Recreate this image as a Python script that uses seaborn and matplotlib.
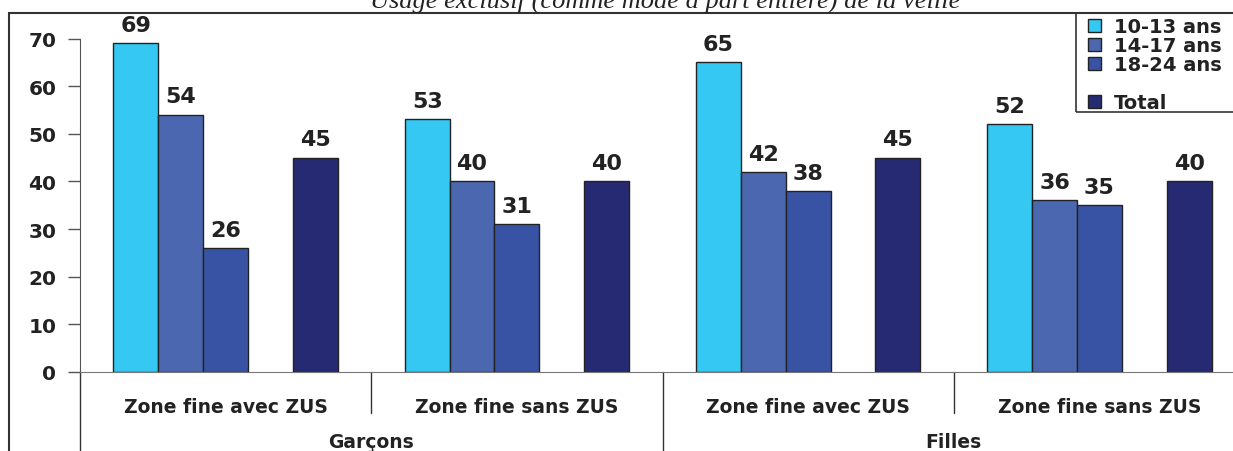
import pandas as pd
import matplotlib.pyplot as plt
import seaborn as sns
from matplotlib.patches import Patch, Rectangle

# Data
sexes = ['Garçons', 'Garçons', 'Filles', 'Filles']
zones = ['Zone fine avec ZUS', 'Zone fine sans ZUS', 'Zone fine avec ZUS', 'Zone fine sans ZUS']
ages = ['10-13 ans', '14-17 ans', '18-24 ans', 'Total']
v_10_13 = [69, 53, 65, 52]
v_14_17 = [54, 40, 42, 36]
v_18_24 = [26, 31, 38, 35]
v_total = [45, 40, 45, 40]
colors = ['#35C8F2', '#4A67B0', '#3853A4', '#262A73']
title = 'Usage exclusif (comme mode à part entière) de la veille'

# Long format
keys = [f'{s}|{z}' for s, z in zip(sexes, zones)]
rows = []
for age, vals in zip(ages, [v_10_13, v_14_17, v_18_24, v_total]):
    for k, v in zip(keys, vals):
        rows.append({'cat': k, 'age': age, 'val': v})
df = pd.DataFrame(rows)

# blank hue level makes the gap between 18-24 and Total
hue_order = ages[:3] + [' '] + ages[3:]
palette = dict(zip(ages, colors))
palette[' '] = 'white'

sns.set_style('white')
plt.rcParams['font.family'] = ['DejaVu Sans']

W, H = 1233, 452
fig = plt.figure(figsize=(W / 100, H / 100), dpi=100)
x0, x1, ytop, ybot = 80, 1245, 39.5, 373
ax = fig.add_axes([x0 / W, (H - ybot) / H, (x1 - x0) / W, (ybot - ytop) / H])

sns.barplot(data=df, x='cat', y='val', hue='age', order=keys, hue_order=hue_order,
            palette=palette, saturation=1, width=0.77, edgecolor='#222222', linewidth=1,
            errorbar=None, legend=False, ax=ax)

ax.set_ylim(0, 70)
ax.set_xlim(-0.5, 3.5)
ax.set_yticks(range(0, 71, 10))
ax.set_xlabel('')
ax.set_ylabel('')
for sp in ['top', 'right']:
    ax.spines[sp].set_visible(False)
ax.spines['left'].set_color('#555555')
ax.spines['bottom'].set_color('#777777')
ax.tick_params(axis='y', direction='out', length=9, width=1, color='#555555',
               labelsize=14.5, pad=8, left=True)
ax.tick_params(axis='x', length=0, pad=18, labelsize=13.5)
ax.set_xticks(range(len(zones)))
ax.set_xticklabels(zones, fontweight='bold', color='#222222')
for t in ax.get_yticklabels():
    t.set_fontweight('bold')
    t.set_color('#222222')

# value labels
for c in ax.containers:
    labs = [f'{v:.0f}' if v > 0 else '' for v in c.datavalues]
    ax.bar_label(c, labels=labs, padding=6, fontsize=16, fontweight='bold',
                 color='#222222', clip_on=False)

# category separators and group labels
tr = ax.get_xaxis_transform()
axh = ybot - ytop
for i in range(len(keys) + 1):
    xs = i - 0.5
    long_line = (i % 2 == 0)
    ye = -(H - ybot) / axh - 0.01 if long_line else -(414 - ybot) / axh
    ax.plot([xs, xs], [0, ye], transform=tr, color='#333333', lw=1, clip_on=False)
for g in ['Garçons', 'Filles']:
    idx = [i for i, s in enumerate(sexes) if s == g]
    xm = (idx[0] + idx[-1]) / 2
    ax.text(xm, -(443 - ybot) / axh, g, transform=tr, ha='center', va='center',
            fontsize=13.5, fontweight='bold', color='#222222')

# outer frame
fig.add_artist(Rectangle((9 / W, -0.1), 1.2, 1.1 - 14 / H, transform=fig.transFigure,
                         fill=False, edgecolor='#333333', lw=1.5))

# title (partly cut off at the top, as in the source)
fig.text(665 / W, 1 - 8 / H, title, ha='center', va='baseline', fontsize=19,
         style='italic', family=['Liberation Serif', 'DejaVu Serif'], color='#222222')

# legend with an empty row, box drawn separately
fig.add_artist(Rectangle((1076 / W, 1 - 113 / H), 0.2, (113 - 14) / H,
                         transform=fig.transFigure, fill=False, edgecolor='#333333', lw=1.2))
handles = [Patch(facecolor=colors[0], edgecolor='#222222', label=ages[0]),
           Patch(facecolor=colors[1], edgecolor='#222222', label=ages[1]),
           Patch(facecolor=colors[2], edgecolor='#222222', label=ages[2]),
           Patch(facecolor='none', edgecolor='none', label=' '),
           Patch(facecolor=colors[3], edgecolor='#222222', label=ages[3])]
leg = fig.legend(handles=handles, loc='upper left', bbox_to_anchor=(1088 / W, 1 - 18 / H),
                 borderaxespad=0, frameon=False,
                 prop={'weight': 'bold', 'size': 14}, handlelength=0.65, handleheight=0.65,
                 handletextpad=0.7, labelspacing=0.0, borderpad=0.0)
for t in leg.get_texts():
    t.set_color('#222222')

fig.savefig('out.png', dpi=100)
